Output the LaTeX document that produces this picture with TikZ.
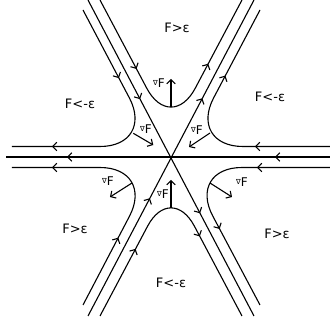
\documentclass[tikz,border=0pt]{standalone}
\usepackage{fontspec}
\setmainfont{DejaVu Sans}
\usetikzlibrary{arrows.meta,decorations.markings}

\tikzset{
  flow/.style 2 args={postaction={decorate,decoration={markings,
      mark=at position #1 with {\arrow{Straight Barb[length=4pt,width=8.5pt]}},
      mark=at position #2 with {\arrow{Straight Barb[length=4pt,width=8.5pt]}}}}},
  grad/.style={-{Straight Barb[length=4pt,width=8.5pt]}},
  region/.style={font=\fontsize{13}{15}\selectfont},
  gradlbl/.style={font=\fontsize{12}{14}\selectfont, inner sep=0pt}
}
\newcommand{\gradF}{\raisebox{2pt}{\fontsize{7}{7}\selectfont ∇}F}

\begin{document}
\begin{tikzpicture}[x=1pt,y=1pt,line width=1.1pt]
  \useasboundingbox (-171,-164) rectangle (159,157);
  % separatrices through the saddle
  \draw[flow={55pt}{-61pt}] (159,0) -- (-165,0);
  \draw[flow={112pt}{-116pt}] (-83,157) -- (83,-159);
  \draw[flow={133pt}{-111pt}] (-83,-159) -- (83,157);
  % level curves, top and bottom
  \draw[rounded corners=52pt, flow={78pt}{-72pt}] (-71,157) -- (0,23) -- (71,157);
  \draw[rounded corners=50pt, flow={76pt}{-90pt}] (-71,-159) -- (0,-25) -- (71,-159);
  % level curves, sides
  \draw[rounded corners=55pt, flow={77pt}{-40pt}] (-88,147) -- (-16,10.5) -- (-159,10.5);
  \draw[rounded corners=55pt, flow={75pt}{-74pt}] (159,10.5) -- (17,10.5) -- (89,147);
  \draw[rounded corners=55pt, flow={76pt}{-40pt}] (-88,-148) -- (-16,-10.5) -- (-159,-10.5);
  \draw[rounded corners=55pt, flow={73pt}{-86pt}] (159,-10.5) -- (16,-10.5) -- (89,-148);
  % gradient arrows
  \draw[grad] (0,50.3) -- (0,78);
  \draw[grad] (-37.7,23.7) -- (-17.7,12);
  \draw[grad] (39,24) -- (18,10);
  \draw[grad] (-39,-26) -- (-61,-40);
  \draw[grad] (39,-26) -- (61,-40);
  \draw[grad] (0,-51) -- (0,-23);
  % regions
  \node[region] (top) at (6,129) {F>ε};
  \node[region] (bot) at (0,-126) {F<-ε};
  \node[region] (upl) at (-91,53) {F<-ε};
  \node[region] (upr) at (99,60) {F<-ε};
  \node[region] (lol) at (-96,-72) {F>ε};
  \node[region] (lor) at (106,-77) {F>ε};
  % gradient labels
  \node[gradlbl] (gtop) at (-12,74) {\gradF};
  \node[gradlbl] (gupl) at (-25,28) {\gradF};
  \node[gradlbl] (gupr) at (26,27) {\gradF};
  \node[gradlbl] (glol) at (-63,-24) {\gradF};
  \node[gradlbl] (glor) at (71,-25) {\gradF};
  \node[gradlbl] (gbot) at (-8,-37) {\gradF};
\end{tikzpicture}
\end{document}
